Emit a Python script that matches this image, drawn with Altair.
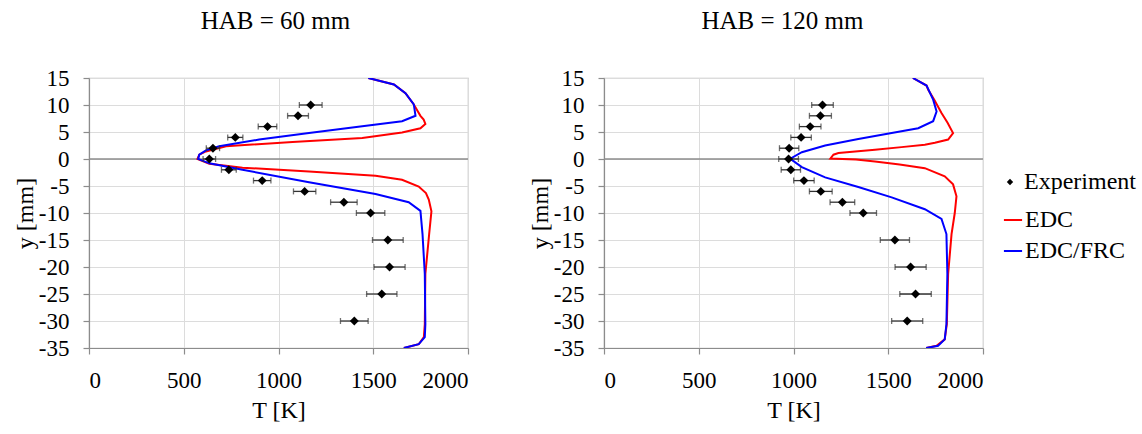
import altair as alt
import pandas as pd

FONT = "Liberation Serif"

# ---------------- data ----------------
exp_y = [10, 8, 6, 4, 2, 0, -2, -4, -6, -8, -10, -15, -20, -25, -30]

# HAB = 60 mm
exp60_T = [1170, 1103, 942, 772, 654, 635, 738, 914, 1138, 1345, 1486, 1577, 1586, 1545, 1400]
exp60_err = [60, 55, 49, 40, 35, 33, 39, 46, 59, 70, 75, 81, 82, 80, 73]

edc60_y = [15, 13.8, 12.2, 10.1, 8.0, 7.3, 6.5, 5.7, 4.9, 3.9, 3.15, 2.35, 1.4, 0.8, 0.0,
           -0.9, -1.6, -2.3, -3.1, -3.85, -5.1, -6.3, -7.5, -9.7, -13.9, -21.3, -30.6, -33.0, -34.3, -35.0]
edc60_T = [1474, 1609, 1670, 1714, 1749, 1766, 1775, 1749, 1652, 1442, 1074, 723, 617, 582, 572,
           635, 810, 1161, 1512, 1652, 1740, 1778, 1793, 1807, 1795, 1775, 1772, 1767, 1740, 1662]

frc60_y = [15, 13.8, 12.2, 10.1, 8.0, 7.0, 6.05, 4.8, 3.6, 2.35, 1.6, 0.8, 0.0,
           -0.8, -2.0, -4.3, -6.5, -8.0, -9.6, -13.9, -21.3, -30.6, -33.0, -34.3, -35.0]
frc60_T = [1474, 1609, 1670, 1714, 1723, 1652, 1442, 1161, 898, 687, 617, 582, 576,
           635, 810, 1161, 1512, 1687, 1749, 1760, 1772, 1775, 1772, 1740, 1661]

# HAB = 120 mm
exp120_T = [1153, 1142, 1088, 1040, 977, 974, 986, 1055, 1144, 1258, 1368, 1535, 1618, 1644, 1600]
exp120_err = [57, 58, 57, 54, 51, 52, 51, 54, 60, 65, 70, 77, 82, 83, 82]

edc120_y = [15, 13.6, 12.8, 11.0, 8.5, 6.7, 4.8, 3.6, 3.0, 2.65, 2.2, 1.72, 1.1, 0.8, 0.1,
            -0.1, -0.45, -1.0, -1.7, -3.2, -4.7, -6.9, -10.0, -13.9, -21.3, -30.6, -33.4, -34.6, -35.0]
edc120_T = [1630, 1702, 1711, 1742, 1781, 1813, 1842, 1816, 1746, 1693, 1570, 1430, 1237, 1211, 1195,
            1330, 1430, 1560, 1693, 1798, 1842, 1860, 1851, 1834, 1816, 1809, 1798, 1755, 1700]

frc120_y = [15, 13.6, 11.0, 8.8, 7.0, 5.7, 4.8, 3.7, 2.5, 1.25, 0.2, 0.0,
            -1.5, -3.4, -5.2, -7.1, -9.3, -11.1, -13.9, -21.3, -30.6, -33.4, -34.6, -35.0]
frc120_T = [1630, 1702, 1737, 1755, 1737, 1658, 1518, 1342, 1167, 1044, 990, 985,
            1044, 1167, 1342, 1518, 1693, 1781, 1807, 1812, 1807, 1798, 1763, 1700]

series_names = ["EDC", "EDC/FRC"]
series_colors = ["#ff0000", "#0000ff"]
x_ticks = [0, 500, 1000, 1500, 2000]
y_ticks = [-35, -30, -25, -20, -15, -10, -5, 0, 5, 10, 15]


def line_frame(ys, ts, name):
    return pd.DataFrame({"y": ys, "T": ts, "series": name, "idx": range(len(ys))})


def panel(title, title_dx, exp_T, exp_err, edc_y, edc_T, frc_y, frc_T, show_legend):
    xs = alt.Scale(domain=[0, 2000], nice=False, zero=False)
    ys = alt.Scale(domain=[-35, 15], nice=False, zero=False)
    x_axis = alt.Axis(values=x_ticks, title="T [K]", labelExpr="'' + datum.value",
                      labelOverlap=False, grid=True)
    y_axis = alt.Axis(values=y_ticks, title="y [mm]", labelExpr="'' + datum.value",
                      labelOverlap=False, grid=True)

    def X(field):
        return alt.X(field, type="quantitative", scale=xs, axis=x_axis)

    def Y(field):
        return alt.Y(field, type="quantitative", scale=ys, axis=y_axis)

    lines = pd.concat([line_frame(edc_y, edc_T, "EDC"), line_frame(frc_y, frc_T, "EDC/FRC")])
    exp = pd.DataFrame({"y": exp_y, "T": exp_T, "err": exp_err, "kind": "Experiment"})
    exp["lo"] = exp["T"] - exp["err"]
    exp["hi"] = exp["T"] + exp["err"]

    zero = alt.Chart(pd.DataFrame({"y": [0]})).mark_rule(color="#8c8c8c", strokeWidth=1.5).encode(
        y=Y("y")
    )

    color_kw = dict(scale=alt.Scale(domain=series_names, range=series_colors))
    shape_kw = dict(scale=alt.Scale(domain=["Experiment"], range=["diamond"]))
    if show_legend:
        color_kw["legend"] = alt.Legend(
            title=None, orient="none", legendX=397, legendY=130, symbolType="stroke",
            symbolSize=330, symbolStrokeWidth=2, labelOffset=0, rowPadding=7, padding=0,
            labelFont=FONT, labelFontSize=24, labelColor="black",
        )
        shape_kw["legend"] = alt.Legend(
            title=None, orient="none", legendX=394, legendY=92, symbolSize=40,
            symbolFillColor="black", symbolStrokeColor="black", labelOffset=2, padding=0,
            labelFont=FONT, labelFontSize=24, labelColor="black",
        )
    else:
        color_kw["legend"] = None
        shape_kw["legend"] = None

    line_layer = alt.Chart(lines).mark_line(strokeWidth=2, clip=True).encode(
        x=X("T"),
        y=Y("y"),
        color=alt.Color("series:N", **color_kw),
        order=alt.Order("idx:Q"),
        detail="series:N",
    )

    bars = alt.Chart(exp).mark_rule(color="#333333", strokeWidth=1.3).encode(
        x=X("lo"), x2="hi:Q", y=Y("y")
    )
    caps_lo = alt.Chart(exp).mark_tick(orient="vertical", color="#333333", thickness=1.3, size=6).encode(
        x=X("lo"), y=Y("y")
    )
    caps_hi = alt.Chart(exp).mark_tick(orient="vertical", color="#333333", thickness=1.3, size=6).encode(
        x=X("hi"), y=Y("y")
    )
    pts = alt.Chart(exp).mark_point(filled=True, opacity=1, size=80, color="black").encode(
        x=X("T"), y=Y("y"),
        shape=alt.Shape("kind:N", **shape_kw),
    )

    return alt.layer(zero, line_layer, bars, caps_lo, caps_hi, pts).properties(
        width=379, height=270,
        title=alt.TitleParams(title, font=FONT, fontSize=25, fontWeight="normal",
                              color="black", offset=33, anchor="middle", dx=title_dx),
    )


left = panel("HAB = 60 mm", -3, exp60_T, exp60_err, edc60_y, edc60_T, frc60_y, frc60_T, False)
right = panel("HAB = 120 mm", -11, exp120_T, exp120_err, edc120_y, edc120_T, frc120_y, frc120_T, True)

chart = alt.hconcat(left, right, spacing=57).resolve_scale(color="independent", shape="independent").configure(
    padding={"left": 12, "top": 8, "right": 0, "bottom": 0},
    background="white",
    font=FONT,
).configure_view(
    stroke="#bfbfbf", strokeWidth=1.2
).configure_axis(
    labelFont=FONT, labelFontSize=23, labelColor="black", labelOverlap=False,
    titleFont=FONT, titleFontSize=24, titleFontWeight="normal", titleColor="black",
    gridColor="#dcdcdc", gridWidth=1,
    domainColor="#8c8c8c", domainWidth=1.2, tickColor="#8c8c8c", tickSize=6, tickWidth=1.2,
).configure_axisY(
    labelPadding=14, titlePadding=1,
).configure_axisX(
    labelPadding=15, titlePadding=6,
)

chart.save("out.html", embed_options={"renderer": "svg", "actions": False})
